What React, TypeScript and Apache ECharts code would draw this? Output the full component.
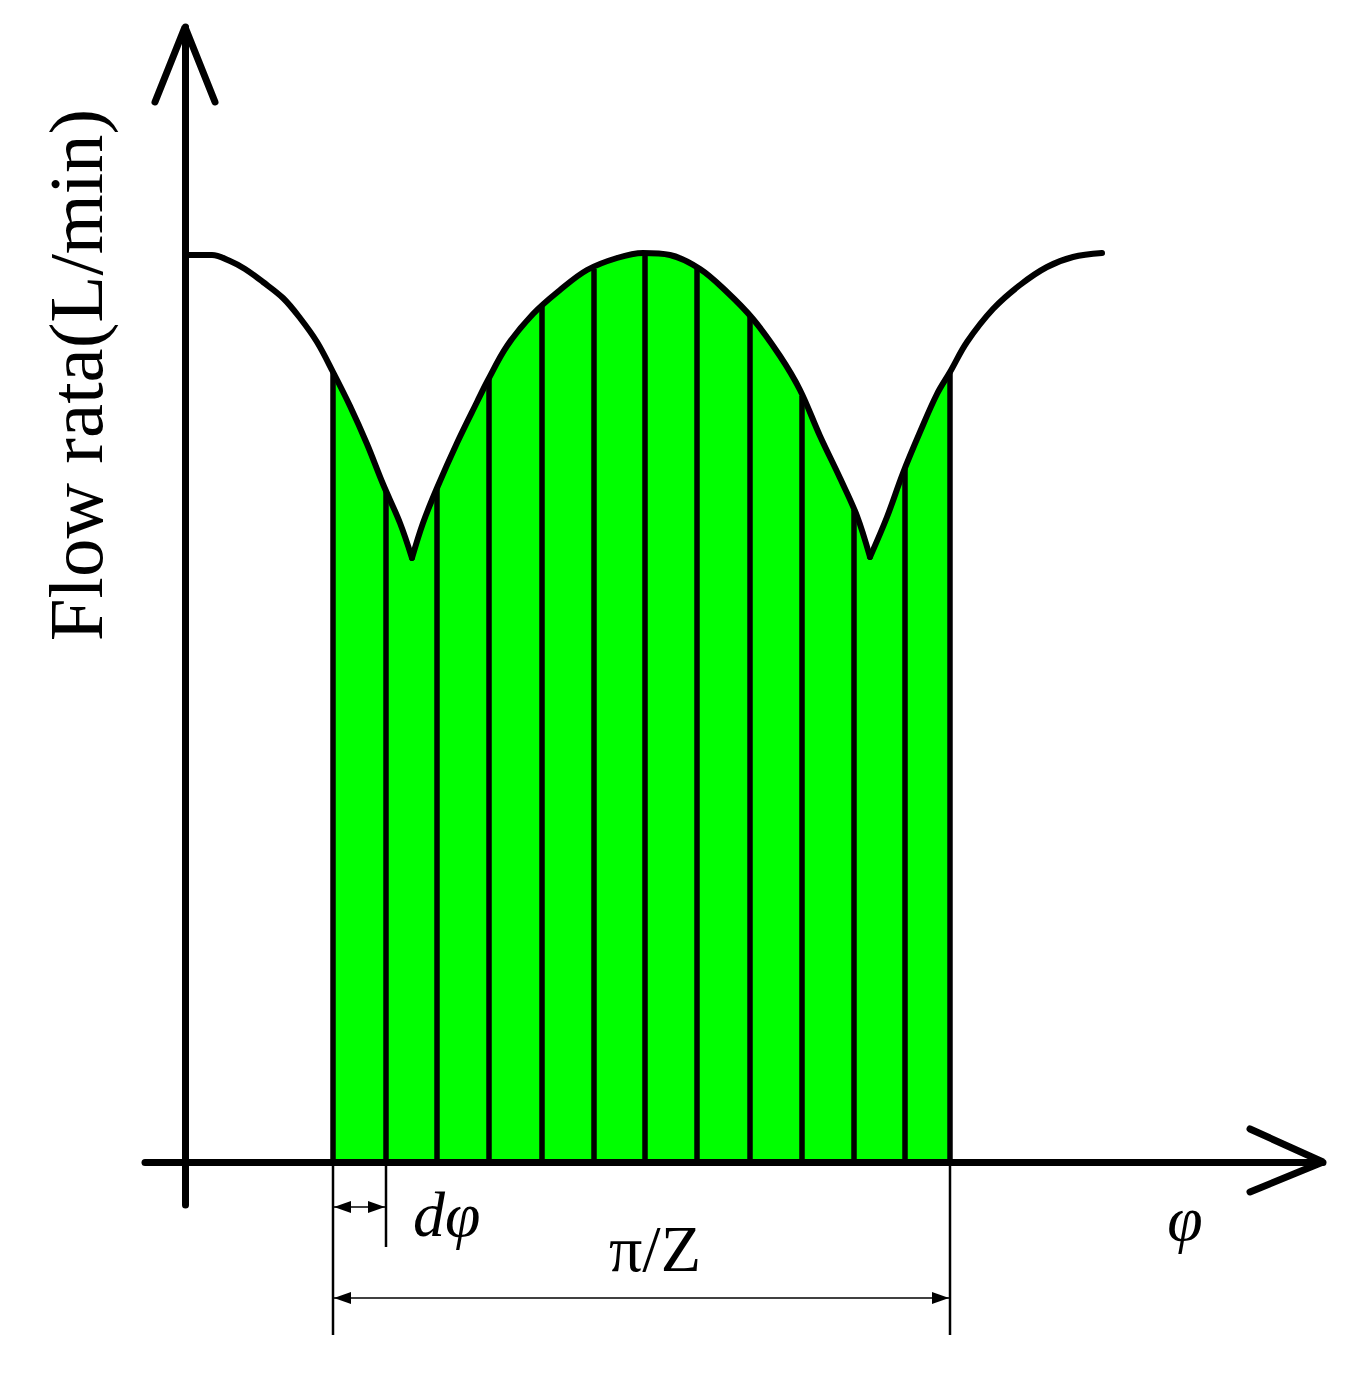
import React, { useEffect, useRef } from "react";
import * as echarts from "echarts";

// Curve of the flow rate, x = φ, y = flow
const curveX = [0, 2.7, 4.5, 6.0, 7.8, 9.8, 11.5, 13.2, 14.8, 16.5, 18.2, 19.8, 21.5, 22.7, 23.8, 25.2, 27.2, 29.2, 30.3, 32.2, 34.8, 37.5, 40.2, 43.2, 45.8, 48.5, 51.5, 54.2, 56.8, 59.5, 61.5, 63.5, 65.5, 67.2, 68.5, 70.2, 71.8, 73.5, 75.2, 76.5, 78.2, 80.8, 83.5, 86.2, 88.8, 91.7];
const curveY = [90.7, 90.7, 90.1, 89.3, 88.0, 86.4, 84.4, 82.0, 79.0, 75.6, 71.8, 67.8, 63.9, 60.4, 63.9, 67.4, 71.9, 76.0, 78.2, 81.6, 84.8, 87.2, 89.2, 90.4, 90.9, 90.7, 89.3, 87.0, 84.3, 80.6, 77.2, 72.6, 68.4, 64.6, 60.5, 64.5, 68.9, 73.0, 76.8, 79.0, 82.0, 85.3, 87.7, 89.5, 90.5, 90.9];

// Vertical strips (dφ slices) under the curve
const stripeX = [14.8, 20.1, 25.2, 30.4, 35.7, 40.9, 46.0, 51.2, 56.5, 61.7, 66.9, 72.0, 76.5];
const stripeTop = [79.0, 67.0, 67.4, 78.4, 85.6, 89.3, 90.9, 89.3, 84.6, 76.6, 65.2, 69.3, 79.0];

// Interval π/Z and one slice dφ
const intervalStart = 14.8;
const intervalEnd = 76.5;
const sliceEnd = 20.1;

const labels = {
  yTitle: "Flow rata(L/min)",
  xTitle: "φ",
  slice: "dφ",
  interval: "π/Z",
};

const SERIF = "'Liberation Serif', 'Times New Roman', serif";

export default function App() {
  const ref = useRef<HTMLDivElement>(null);

  useEffect(() => {
    document.body.style.margin = "0";
    const chart = echarts.init(ref.current!, undefined, { renderer: "svg" });

    const curve = curveX.map((x, i) => [x, curveY[i]]);
    // split the curve at its cusps (local minima) so they stay sharp
    const cusps: number[] = [];
    for (let i = 1; i < curveY.length - 1; i++) {
      if (curveY[i] < curveY[i - 1] && curveY[i] < curveY[i + 1]) cusps.push(i);
    }
    const bounds = [0, ...cusps, curve.length - 1];
    const arches: number[][][] = [];
    for (let k = 0; k < bounds.length - 1; k++) arches.push(curve.slice(bounds[k], bounds[k + 1] + 1));

    const stripes = stripeX.map((x, i) => [x, stripeTop[i]]);

    const xMin = -4, xMax = 113.8, yMin = -4.3, yMax = 113.5;
    const SMOOTH = 0.35;

    const fillSeries = arches
      .map((a) => a.filter((p) => p[0] >= intervalStart && p[0] <= intervalEnd))
      .filter((a) => a.length > 1)
      .map((a) => ({
        type: "line", data: a, showSymbol: false, smooth: SMOOTH, z: 1, silent: true,
        lineStyle: { width: 0, opacity: 0 },
        areaStyle: { color: "#00ff00", opacity: 1 },
      }));

    const curveSeries = arches.map((a) => ({
      type: "line", data: a, showSymbol: false, smooth: SMOOTH, z: 6, silent: true,
      lineStyle: { color: "#000", width: 6, cap: "round" },
    }));

    chart.setOption({
      animation: false,
      grid: { left: 145, right: 31, top: 27, bottom: 175 },
      xAxis: {
        type: "value", min: xMin, max: xMax, z: 5,
        axisLine: { onZero: true, lineStyle: { color: "#000", width: 7 } },
        axisTick: { show: false }, axisLabel: { show: false }, splitLine: { show: false },
      },
      yAxis: {
        type: "value", min: yMin, max: yMax, z: 5,
        axisLine: { onZero: true, lineStyle: { color: "#000", width: 7 } },
        axisTick: { show: false }, axisLabel: { show: false }, splitLine: { show: false },
      },
      series: [
        ...fillSeries,
        {
          type: "custom", data: stripes, z: 2, silent: true,
          renderItem: (params: any, api: any) => {
            const x = api.value(0), top = api.value(1);
            const p0 = api.coord([x, 0]);
            const p1 = api.coord([x, top]);
            return {
              type: "line",
              shape: { x1: p0[0], y1: p0[1], x2: p1[0], y2: p1[1] },
              style: { stroke: "#000", lineWidth: 5.5 },
            };
          },
        },
        ...curveSeries,
        // open arrowheads of the axes
        {
          type: "line", data: [[-3.0, 106], [0, yMax], [3.0, 106]], showSymbol: false, z: 6, silent: true,
          lineStyle: { color: "#000", width: 7, cap: "round" },
        },
        {
          type: "line", data: [[106.5, 3.3], [xMax, 0], [106.5, -3.0]], showSymbol: false, z: 6, silent: true,
          lineStyle: { color: "#000", width: 7, cap: "round" },
        },
      ],
    });

    const px = (x: number, y: number) => chart.convertToPixel({ gridIndex: 0 }, [x, y]) as number[];

    const a0 = px(intervalStart, 0);
    const a1 = px(intervalEnd, 0);
    const s1 = px(sliceEnd, 0);
    const extBottom = px(0, -17.3)[1];
    const sliceExtBottom = px(0, -8.5)[1];
    const sliceDimY = px(0, -4.5)[1];
    const intDimY = px(0, -13.6)[1];

    const arrowHead = (tipX: number, y: number, dir: number) => ({
      type: "polygon",
      shape: { points: [[tipX, y], [tipX - dir * 17, y - 6], [tipX - dir * 17, y + 6]] },
      style: { fill: "#000" },
      silent: true,
    });

    const g: any[] = [
      { type: "line", shape: { x1: a0[0], y1: a0[1], x2: a0[0], y2: extBottom }, style: { stroke: "#000", lineWidth: 2.5 } },
      { type: "line", shape: { x1: a1[0], y1: a1[1], x2: a1[0], y2: extBottom }, style: { stroke: "#000", lineWidth: 2.5 } },
      { type: "line", shape: { x1: s1[0], y1: s1[1], x2: s1[0], y2: sliceExtBottom }, style: { stroke: "#000", lineWidth: 2.5 } },
      { type: "line", shape: { x1: a0[0], y1: sliceDimY, x2: s1[0], y2: sliceDimY }, style: { stroke: "#000", lineWidth: 1.5 } },
      arrowHead(a0[0] + 1, sliceDimY, -1),
      arrowHead(s1[0] - 1, sliceDimY, 1),
      { type: "line", shape: { x1: a0[0], y1: intDimY, x2: a1[0], y2: intDimY }, style: { stroke: "#000", lineWidth: 1.5 } },
      arrowHead(a0[0] + 1, intDimY, -1),
      arrowHead(a1[0] - 1, intDimY, 1),
      {
        type: "text", x: 413, y: 1214,
        style: { text: labels.slice, fill: "#000", font: `italic 64px ${SERIF}`, textAlign: "left", textVerticalAlign: "middle" },
      },
      {
        type: "text", x: 655, y: 1248,
        style: { text: labels.interval, fill: "#000", font: `66px ${SERIF}`, textAlign: "center", textVerticalAlign: "middle" },
      },
      {
        type: "text", x: 1185, y: 1218,
        style: { text: labels.xTitle, fill: "#000", font: `italic 64px ${SERIF}`, textAlign: "center", textVerticalAlign: "middle" },
      },
      {
        type: "text", x: 76, y: 375, rotation: Math.PI / 2,
        style: { text: labels.yTitle, fill: "#000", font: `77px ${SERIF}`, textAlign: "center", textVerticalAlign: "middle" },
      },
    ];
    chart.setOption({ graphic: g });

    return () => chart.dispose();
  }, []);

  return <div ref={ref} style={{ width: 1354, height: 1380 }} />;
}
